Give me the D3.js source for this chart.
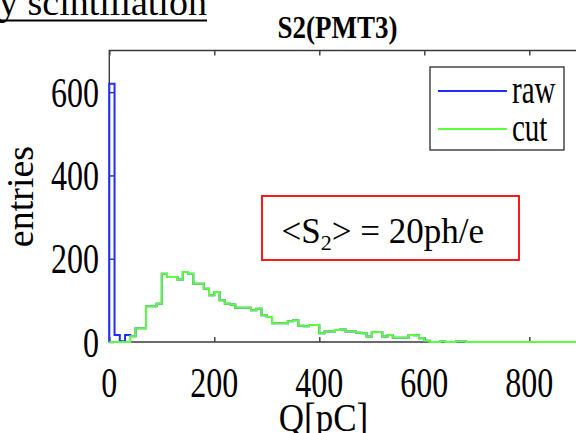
<!DOCTYPE html>
<html><head><meta charset="utf-8">
<script src="https://cdn.jsdelivr.net/npm/d3@7"></script>
<style>
body{margin:0;background:#fff}
svg{display:block}
text{font-family:"Liberation Serif","Times New Roman",serif;fill:#000}
</style>
</head><body>
<svg id="chart" width="576" height="433"></svg>
<script>
// ---- data ----
const binWidth = 10; // pC
const cutCounts = [0,0,0,0,14,33,33,86,86,92,
  164,156,156,150,168,164,140,140,128,112,
  120,100,92,90,82,82,82,76,80,64,
  60,45,45,45,50,52,39,38,41,41,
  21,25,25,29,30,25,25,22,21,13,
  24,24,13,17,10,10,10,17,16,9,
  3,0,0,1,0,0,1,1,0,0,
  0,0,0,0,0,0,0,0,0,0,
  0,0,0,0,0,0,0,0,0,0];
const rawHead = [620,17,2,17];
const rawCounts = rawHead.concat(cutCounts.slice(rawHead.length));
const xTicks = [0,200,400,600,800];
const yTicks = [0,200,400,600];
const seriesNames = ["raw","cut"];
const seriesColors = ["#1f2dff","#5cff3a"];
const titleText = "S2(PMT3)";
const xLabel = "Q[pC]";
const yLabel = "entries";

// ---- layout ----
const svg = d3.select("#chart");
const x = d3.scaleLinear().domain([0, 900]).range([109.3, 581.8]);
const y = d3.scaleLinear().domain([0, 700]).range([342, 50.5]);
const axisColor = "#3a3a3a";
const textColor = "#262626";
const stretch = 1.3; // chart texts are taller than wide in the reference

function stretchedText(parent, px, py, k) {
  return parent.append("text").attr("transform", `translate(${px},${py}) scale(1,${k})`);
}

// slide text fragment at the top
svg.append("text").attr("x", -1).attr("y", 14.5)
  .style("font-size", "38px").text("y scintillation");
svg.append("line").attr("x1", 0).attr("x2", 207).attr("y1", 20.5).attr("y2", 20.5)
  .attr("stroke", "#000").attr("stroke-width", 2);

// title
stretchedText(svg, 337.5, 38, 1.15).attr("text-anchor", "middle")
  .style("font-size", "27px").style("font-weight", "bold").text(titleText);

// frame + axes
const frame = svg.append("g");
frame.append("path")
  .attr("d", `M${x.range()[1]},${y(700)}H${x(0)}V${y(0)}H${x.range()[1]}`)
  .attr("fill", "none").attr("stroke", axisColor).attr("stroke-width", 1.4);
function styleTicks(g) {
  g.select(".domain").remove();
  g.selectAll("line").attr("stroke", axisColor).attr("stroke-width", 1.4);
}
frame.append("g").attr("transform", `translate(0,${y(0)})`)
  .call(d3.axisBottom(x).tickValues(xTicks).tickSize(-5).tickFormat("")).call(styleTicks);
frame.append("g").attr("transform", `translate(0,${y(700)})`)
  .call(d3.axisTop(x).tickValues(xTicks).tickSize(-5).tickFormat("")).call(styleTicks);
frame.append("g").attr("transform", `translate(${x(0)},0)`)
  .call(d3.axisLeft(y).tickValues(yTicks).tickSize(-5).tickFormat("")).call(styleTicks);

// histogram paths
function stepPath(counts) {
  let p = "M" + x(0) + "," + y(0);
  counts.forEach((c, i) => {
    p += "V" + y(c) + "H" + x((i + 1) * binWidth);
  });
  return p;
}
const plot = svg.append("g");
[rawCounts, cutCounts].forEach((counts, i) => {
  plot.append("path").attr("d", stepPath(counts)).attr("fill", "none")
    .attr("stroke", seriesColors[i]).attr("stroke-width", 2);
});

// tick labels
const xl = svg.append("g");
xTicks.forEach(d => {
  stretchedText(xl, x(d), 397, stretch).attr("text-anchor", "middle")
    .style("font-size", "32px").attr("fill", textColor).text(d);
});
const yl = svg.append("g");
yTicks.forEach(d => {
  stretchedText(yl, 99, y(d) + 14.5, stretch).attr("text-anchor", "end")
    .style("font-size", "32px").attr("fill", textColor).text(d);
});

// axis labels
svg.append("text").attr("transform", "translate(33,196.5) rotate(-90)")
  .attr("text-anchor", "middle").style("font-size", "38px").attr("fill", textColor).text(yLabel);
stretchedText(svg, 323.5, 431, 1.15).attr("text-anchor", "middle")
  .style("font-size", "35px").attr("fill", textColor).text(xLabel);

// legend
const lg = svg.append("g");
lg.append("rect").attr("x", 430).attr("y", 67).attr("width", 134).attr("height", 83)
  .attr("fill", "#fff").attr("stroke", axisColor).attr("stroke-width", 1.4);
seriesNames.forEach((n, i) => {
  const ly = 91 + i * 38;
  lg.append("line").attr("x1", 438).attr("x2", 507).attr("y1", ly).attr("y2", ly)
    .attr("stroke", seriesColors[i]).attr("stroke-width", 2);
  stretchedText(lg, 512, ly + 12, 1.4).style("font-size", "29px")
    .attr("fill", textColor).text(n);
});

// annotation box
svg.append("rect").attr("x", 262).attr("y", 196).attr("width", 257).attr("height", 64)
  .attr("fill", "#fff").attr("stroke", "#ff0000").attr("stroke-width", 1.8);
const ann = svg.append("text").attr("x", 281.5).attr("y", 243.3).style("font-size", "35px");
ann.append("tspan").text("<S");
ann.append("tspan").attr("dy", 7).style("font-size", "22px").text("2");
ann.append("tspan").attr("dy", -7).text("> = 20ph/e");
</script>
</body></html>
